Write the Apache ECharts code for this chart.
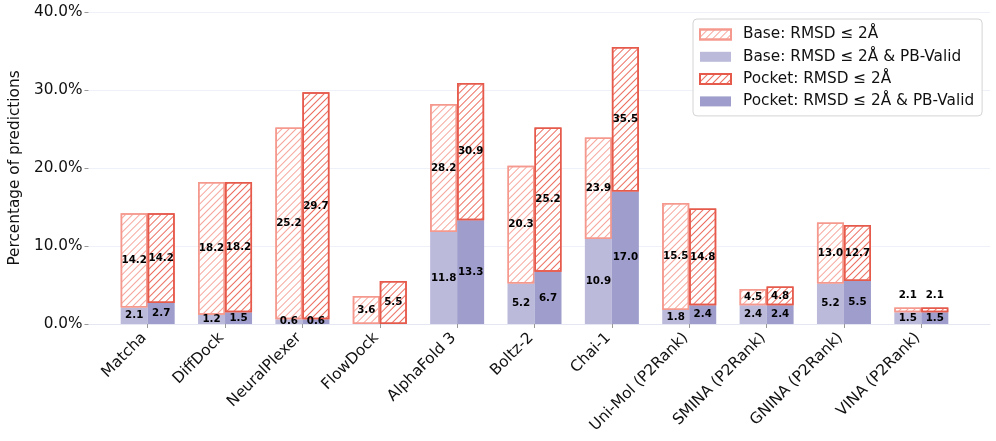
<!DOCTYPE html>
<html><head><meta charset="utf-8">
<script src="https://cdn.jsdelivr.net/npm/echarts@6/dist/echarts.min.js"></script>
<style>html,body{margin:0;padding:0;background:#fff}#c{width:996px;height:441px}</style>
</head><body><div id="c"></div>
<script>
const categories = ['Matcha','DiffDock','NeuralPlexer','FlowDock','AlphaFold 3','Boltz-2','Chai-1','Uni-Mol (P2Rank)','SMINA (P2Rank)','GNINA (P2Rank)','VINA (P2Rank)'];
const baseTotal   = [14.2, 18.2, 25.2, 3.6, 28.2, 20.3, 23.9, 15.5, 4.5, 13.0, 2.1];
const baseValid   = [2.1, 1.2, 0.6, 0, 11.8, 5.2, 10.9, 1.8, 2.4, 5.2, 1.5];
const pocketTotal = [14.2, 18.2, 29.7, 5.5, 30.9, 25.2, 35.5, 14.8, 4.8, 12.7, 2.1];
const pocketValid = [2.7, 1.5, 0.6, 0, 13.3, 6.7, 17.0, 2.4, 2.4, 5.5, 1.5];
const yTicks = [0, 10, 20, 30, 40];

const FONT = 'DejaVu Sans';
const FS = 15.3;
const names = ['Base: RMSD ≤ 2Å','Base: RMSD ≤ 2Å & PB-Valid','Pocket: RMSD ≤ 2Å','Pocket: RMSD ≤ 2Å & PB-Valid'];

function diffData(total, valid){
  return total.map((t,i)=>{
    const d = Math.round((t-valid[i])*10)/10;
    return d < 1 ? {value:d, label:{position:'top', distance:7}} : d;
  });
}
const lbl = {show:true, position:'inside', color:'#000', fontFamily:FONT, fontWeight:'bold', fontSize:10.3};

function hatch(color){
  return {symbol:'rect', symbolSize:1, dashArrayX:[1,0], dashArrayY:[0.9,3.1], rotation:-Math.PI/4, color:color};
}

const chart = echarts.init(document.getElementById('c'), null, {renderer:'canvas'});
chart.setOption({
  animation:false,
  backgroundColor:'#fff',
  grid:[
    {left:80, right:6, top:12, bottom:117},
    {left:109, right:36, top:12, bottom:117}
  ],
  legend:{
    orient:'vertical', left:693, top:19, itemWidth:31, itemHeight:10, itemGap:7.3,
    padding:[8,8,7,6], borderColor:'#d4d4d4', borderWidth:1, borderRadius:4,
    backgroundColor:'rgba(255,255,255,0.9)',
    data:names, icon:'rect',
    textStyle:{fontFamily:FONT, fontSize:FS, color:'#111', lineHeight:15, padding:[0,0,0,7]}
  },
  xAxis:[
    {type:'value', gridIndex:0, min:0, max:1, show:true,
     axisLine:{show:true, lineStyle:{color:'#e4e7f2', width:1}}, axisTick:{show:false},
     axisLabel:{show:false}, splitLine:{show:false}},
    {type:'category', gridIndex:1, data:categories, boundaryGap:true,
     axisLine:{show:false},
     axisTick:{show:true, alignWithLabel:true, length:4, lineStyle:{color:'#999'}},
     axisLabel:{rotate:45, fontFamily:FONT, fontSize:FS, color:'#111', margin:8, interval:0, padding:[0,5,0,0]}}
  ],
  yAxis:[
    {type:'value', gridIndex:0, min:0, max:40, interval:10,
     name:'Percentage of predictions', nameLocation:'middle', nameGap:63,
     nameTextStyle:{fontFamily:FONT, fontSize:FS, color:'#111'},
     axisLine:{show:false}, axisTick:{show:true, length:4, lineStyle:{color:'#999'}},
     axisLabel:{fontFamily:FONT, fontSize:FS, color:'#111', margin:6, formatter:v=>v.toFixed(1)+'%'},
     splitLine:{show:true, lineStyle:{color:'#eff1f8', width:1}}},
    {type:'value', gridIndex:1, min:0, max:40, interval:10, show:false}
  ],
  series:[
    {name:names[1], type:'bar', xAxisIndex:1, yAxisIndex:1, stack:'base', data:baseValid,
     barWidth:27, barGap:'0%',
     itemStyle:{color:'#bcbada'},
     label:Object.assign({}, lbl, {formatter:p=>p.value>0?p.value.toFixed(1):''})},
    {name:names[0], type:'bar', xAxisIndex:1, yAxisIndex:1, stack:'base', data:diffData(baseTotal, baseValid),
     barWidth:27, barGap:'0%',
     itemStyle:{color:'#ffffff', borderColor:'#f5998e', borderWidth:1.5, decal:hatch('#f6a69c')},
     label:Object.assign({}, lbl, {formatter:p=>baseTotal[p.dataIndex].toFixed(1)})},
    {name:names[3], type:'bar', xAxisIndex:1, yAxisIndex:1, stack:'pocket', data:pocketValid,
     barWidth:27, barGap:'0%',
     itemStyle:{color:'#9e9dcb'},
     label:Object.assign({}, lbl, {formatter:p=>p.value>0?p.value.toFixed(1):''})},
    {name:names[2], type:'bar', xAxisIndex:1, yAxisIndex:1, stack:'pocket', data:diffData(pocketTotal, pocketValid),
     barWidth:27, barGap:'0%',
     itemStyle:{color:'#ffffff', borderColor:'#e65a4c', borderWidth:1.5, decal:hatch('#ec6e60')},
     label:Object.assign({}, lbl, {formatter:p=>pocketTotal[p.dataIndex].toFixed(1)})}
  ]
});
</script></body></html>
